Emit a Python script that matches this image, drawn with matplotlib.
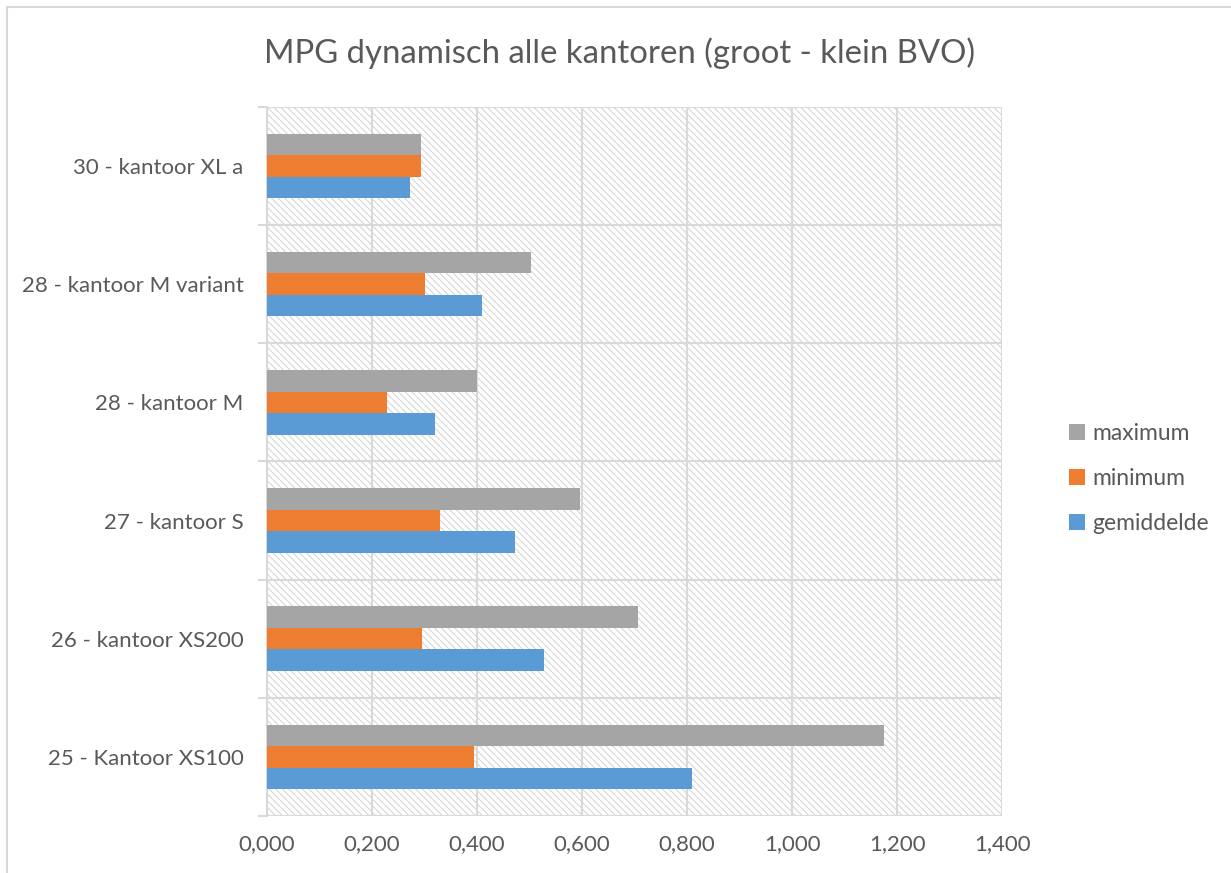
import matplotlib
matplotlib.use("Agg")
import matplotlib.pyplot as plt
from matplotlib.patches import Rectangle
import numpy as np

# Offices, bottom row first (matches the horizontal bar order)
kantoren = ["25 - Kantoor XS100", "26 - kantoor XS200", "27 - kantoor S",
            "28 - kantoor M", "28 - kantoor M variant", "30 - kantoor XL a"]
gemiddelde = [0.810, 0.528, 0.472, 0.320, 0.409, 0.273]
minimum    = [0.394, 0.295, 0.329, 0.228, 0.301, 0.294]
maximum    = [1.175, 0.707, 0.596, 0.400, 0.503, 0.294]
xticks = [0.0, 0.2, 0.4, 0.6, 0.8, 1.0, 1.2, 1.4]

TXT = "#595959"
GRID = "#d9d9d9"
plt.rcParams["font.family"] = ["Lato", "DejaVu Sans"]
plt.rcParams["hatch.color"] = "#d2d2d2"
plt.rcParams["hatch.linewidth"] = 0.7

fig = plt.figure(figsize=(12.31, 8.73), dpi=100)
ax = fig.add_axes([0.2169, 0.0653, 0.5973, 0.8122])

# hatched plot background
ax.patch.set_facecolor("white")
ax.patch.set_hatch("\\\\\\\\\\")
ax.patch.set_edgecolor("#d2d2d2")
ax.patch.set_linewidth(0)

y = np.arange(len(kantoren))
h = 0.182
ax.barh(y - h, gemiddelde, h, color="#5B9BD5", label="gemiddelde", zorder=3)
ax.barh(y, minimum, h, color="#ED7D31", label="minimum", zorder=3)
ax.barh(y + h, maximum, h, color="#A5A5A5", label="maximum", zorder=3)

ax.set_xlim(0, 1.4)
ax.set_ylim(-0.5, len(kantoren) - 0.5)
ax.set_xticks(xticks)
ax.set_xticklabels([f"{v:.3f}".replace(".", ",") for v in xticks])
ax.set_yticks(y)
ax.set_yticklabels(kantoren)
ax.set_yticks(np.arange(-0.5, len(kantoren)), minor=True)

for v in xticks[1:]:
    ax.axvline(v, color=GRID, lw=1.5, zorder=1)
for b in np.arange(-0.5, len(kantoren)):
    ax.axhline(b, color=GRID, lw=1.5, zorder=1)

for s in ["top", "right", "bottom"]:
    ax.spines[s].set_visible(False)
ax.spines["left"].set_color(GRID)
ax.spines["left"].set_linewidth(1.5)

ax.tick_params(axis="x", length=0, pad=13, labelsize=16, labelcolor=TXT)
ax.tick_params(axis="y", which="major", length=0, pad=17, labelsize=16, labelcolor=TXT)
ax.tick_params(axis="y", which="minor", length=6.5, width=1.5, color=GRID)

fig.text(0.503, 0.939, "MPG dynamisch alle kantoren (groot - klein BVO)",
         ha="center", va="center", fontsize=23.7, color=TXT)

handles, labels = ax.get_legend_handles_labels()
leg = fig.legend(handles[::-1], labels[::-1], loc="center left",
                 bbox_to_anchor=(0.852, 0.452), frameon=False,
                 fontsize=16.5, labelcolor=TXT, handlelength=0.7,
                 handleheight=0.7, handletextpad=0.3, labelspacing=1.05)

# thin chart-area border
fig.patches.append(Rectangle((7 / 1231, -0.01), 1.02, 1 - 7 / 873 + 0.01,
                             transform=fig.transFigure, fill=False,
                             edgecolor=GRID, lw=1.5))

fig.savefig("out.png", dpi=100)
